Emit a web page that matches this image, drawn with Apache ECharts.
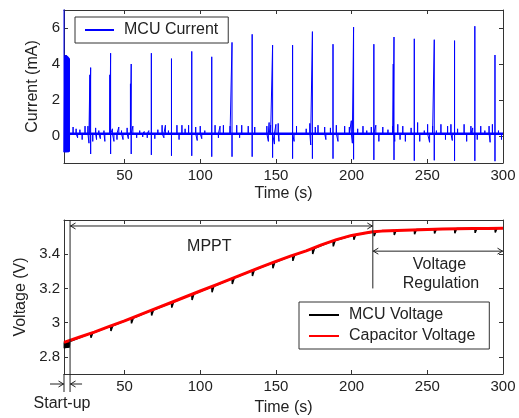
<!DOCTYPE html>
<html><head><meta charset="utf-8">
<script src="https://cdn.jsdelivr.net/npm/echarts@6/dist/echarts.min.js"></script>
<style>html,body{margin:0;padding:0;background:#fff}#c{width:519px;height:418px}</style>
</head><body><div id="c"></div>
<script>
// ---------- axis ticks ----------
const xTicks = [50, 100, 150, 200, 250, 300];
const currentTicks = [0, 2, 4, 6];
const voltageTicks = [2.8, 3, 3.2, 3.4];

// ---------- MCU current (mA) ----------
const baselineCurrent = 0.13;
const firstSpike = [10.0, 7.5, -0.9];          // time, peak, dip
const burstT  = [10.5, 10.7, 10.9, 11.1, 11.3, 11.5, 11.7, 11.9, 12.1, 12.3, 12.5, 12.7, 12.9, 13.1, 13.3, 13.5];
const burstHi = [4.4, 4.45, 4.5, 4.4, 4.45, 4.5, 4.4, 4.35, 4.45, 4.4, 4.35, 4.4, 4.3, 4.35, 4.3, 4.3];
const burstLo = [-0.9, -0.85, -0.9, -0.88, -0.9, -0.85, -0.9, -0.88, -0.85, -0.9, -0.88, -0.85, -0.9, -0.85, -0.88, -0.85];
const spikeT    = [27.6, 40.8, 54.4, 67.7, 81, 94.4, 107.6, 121, 134.3, 147.8, 161, 174.1, 187.7, 201.3, 214.7, 228, 241.4, 254.6, 268, 281.4, 294.7];
const spikePeak = [3.8, 4.6, 4.0, 4.6, 4.3, 4.7, 4.4, 5.2, 5.65, 5.05, 5.05, 5.8, 5.1, 6.05, 5.1, 5.5, 5.4, 5.35, 5.3, 6.1, 4.5];
const spikeDip  = [-1.0, -1.0, -1.0, -1.05, -1.1, -1.1, -1.15, -1.15, -1.15, -1.2, -1.26, -1.26, -1.26, -1.3, -1.33, -1.33, -1.37, -1.35, -1.38, -1.38, -1.4];
const preSpikeT    = [27.1, 40.3, 53.9, 227.5];
const preSpikePeak = [3.4, 3.4, 2.9, 4.0];
const noiseT = [16, 18, 19, 20.5, 22, 23.9, 25.8, 26.5, 29, 30.9, 31.5, 33, 34, 36.4, 37, 42, 43, 45, 46.2, 48, 49, 51.7, 52.5,
  55.5, 58, 60, 62, 63, 65, 66, 70, 72, 74.8, 76, 77, 79, 84.6, 86, 87.9, 90, 92.3, 97, 98, 100, 101, 103, 109.8, 112, 113.1, 115.3, 119.7, 124.1, 126, 127.4, 131.7, 136,
  144, 145, 145.5, 146.5, 149, 150, 151.5, 152, 162, 163.6, 170, 172.4, 173, 176, 177.8, 182.2, 183, 186, 189.9, 191, 195.4, 198.5, 199.8, 200.5, 204, 207.5, 210, 213, 216, 218, 220.6,
  224, 227.2, 228.5, 230.5, 232, 233.8, 235.5, 239.3, 243.6, 245, 248, 250.2, 251.5, 253.5, 256, 259, 262, 263.4, 265.6, 266.5, 270, 274.3, 276, 278.8, 280, 283, 285.3, 288, 290.8, 291.5, 293, 297, 299];
const noiseV = [0.5, 0.4, -0.1, 0.35, -0.2, 0.55, 0.55, -0.4, -0.3, 0.45, -0.2, 0.3, -0.15, 0.3, -0.3, 0.4, -0.3, -0.2, 0.5, 0.3, -0.2, 0.45, -0.15,
  0.55, -0.1, 0.3, -0.05, 0.25, -0.1, 0.3, -0.15, 0.35, 0.6, -0.1, 0.6, 0.3, 0.6, -0.2, 0.6, 0.4, 0.6, 0.5, -0.25, 0.55, -0.15, 0.3, 0.6, -0.1, 0.55, 0.6, 0.55, 0.6, -0.1, 0.6, 0.55, 0.5,
  0.55, -0.3, 0.75, 0.6, -0.45, 0.65, 0.7, -0.3, -0.3, 0.55, 0.4, 0.7, -0.5, 0.5, 0.6, 0.5, -0.2, 0.45, 0.6, -0.3, 0.55, 0.5, 0.85, -0.4, 0.4, 0.55, 0.3, 0.5, 0.6, -0.3, 0.5,
  0.35, 0.55, -0.3, 0.65, -0.2, 0.55, -0.3, 0.45, 0.75, -0.3, 0.3, 0.65, -0.35, 0.55, 0.3, 0.65, -0.2, 0.55, 0.65, -0.25, 0.4, 0.65, -0.3, 0.55, 0.45, -0.2, 0.55, 0.3, 0.55, -0.35, 0.65, 0.3, -0.2];

// ---------- voltages (V) ----------
const capT = [10, 20, 30, 40, 50, 60, 70, 80, 90, 100, 110, 120, 130, 140, 150, 160, 170, 180, 190, 200, 210, 214, 220, 230, 240, 250, 260, 270, 280, 290, 300];
const capV = [2.885, 2.915, 2.945, 2.978, 3.01, 3.045, 3.08, 3.115, 3.15, 3.185, 3.22, 3.255, 3.29, 3.325, 3.358, 3.39, 3.42, 3.455, 3.485, 3.51, 3.525, 3.531, 3.535, 3.539, 3.542, 3.545, 3.547, 3.549, 3.55, 3.551, 3.552];
const mcuBurstT  = [10.2, 10.6, 11.0, 11.4, 11.8, 12.2, 12.6, 13.0, 13.4];
const mcuBurstHi = [2.885, 2.886, 2.886, 2.887, 2.887, 2.888, 2.888, 2.889, 2.889];
const mcuBurstLo = [2.85, 2.851, 2.851, 2.852, 2.852, 2.853, 2.853, 2.854, 2.854];
const mcuAfterBurst = [13.8, 2.889];
const mcuDipTop = [2.938, 2.98, 3.025, 3.072, 3.118, 3.165, 3.21, 3.258, 3.305, 3.35, 3.393, 3.433, 3.478, 3.512, 3.531, 3.538, 3.542, 3.546, 3.548, 3.55, 3.551];
const mcuDipLow = [2.912, 2.952, 2.996, 3.042, 3.088, 3.133, 3.178, 3.226, 3.273, 3.318, 3.361, 3.401, 3.446, 3.485, 3.506, 3.513, 3.517, 3.521, 3.523, 3.525, 3.527];
const mcuEnd = [300, 3.552];

// ---------- annotation anchors (data units) ----------
const startT = 10, startupEnd = 14, mpptEnd = 214, tEnd = 300;
const mpptArrowV = 3.565, regArrowV = 3.418, regLineLowV = 3.2;

// ---------- build series data ----------
const B = baselineCurrent;
const events = [];
events.push([firstSpike[0], [[firstSpike[0], firstSpike[1]], [firstSpike[0], firstSpike[2]]]]);
burstT.forEach((t, i) => events.push([t, [[t, burstHi[i]], [t, burstLo[i]]]]));
events.push([13.7, [[13.7, B]]]);
spikeT.forEach((t, i) => events.push([t, [[t, B], [t, spikePeak[i]], [t, spikeDip[i]], [t, B]]]));
preSpikeT.forEach((t, i) => events.push([t, [[t, B], [t, preSpikePeak[i]], [t, B]]]));
noiseT.forEach((t, i) => events.push([t, [[t, B], [t, noiseV[i]], [t, B]]]));
events.sort((a, b) => a[0] - b[0]);
const currentData = [];
events.forEach(e => e[1].forEach(p => currentData.push(p)));
currentData.push([300, B]);

const capData = capT.map((t, i) => [t, capV[i]]);
const mcuData = [];
mcuBurstT.forEach((t, i) => { mcuData.push([t, mcuBurstHi[i]]); mcuData.push([t, mcuBurstLo[i]]); });
mcuData.push(mcuAfterBurst);
spikeT.forEach((t, i) => { mcuData.push([t, mcuDipTop[i]]); mcuData.push([t + 0.2, mcuDipLow[i]]); mcuData.push([t + 1.4, mcuDipTop[i] + 0.002]); });
mcuData.push(mcuEnd);

const FONT = 'Liberation Sans, Arial, sans-serif';
const TXT = '#222';
const AX = '#333';

function xAx(grid, pos, name, gap) {
  const main = pos === 'bottom';
  return {
    type: 'value', gridIndex: grid, position: pos, min: startT, max: tEnd,
    name: main ? name : '', nameLocation: 'middle', nameGap: gap,
    nameTextStyle: { fontFamily: FONT, fontSize: 16, color: TXT },
    axisLine: { show: true, onZero: false, lineStyle: { color: AX, width: 1 } },
    axisTick: { show: true, inside: true, length: 4, customValues: xTicks, lineStyle: { color: AX } },
    axisLabel: { show: main, customValues: xTicks, margin: 5, fontFamily: FONT, fontSize: 15, color: TXT },
    splitLine: { show: false }
  };
}
function yAx(grid, pos, min, max, ticks, name, gap) {
  const main = pos === 'left';
  return {
    type: 'value', gridIndex: grid, position: pos, min: min, max: max,
    name: main ? name : '', nameLocation: 'middle', nameGap: gap, nameRotate: 90,
    nameTextStyle: { fontFamily: FONT, fontSize: 16, color: TXT },
    axisLine: { show: true, onZero: false, lineStyle: { color: AX, width: 1 } },
    axisTick: { show: true, inside: true, length: 4, customValues: ticks, lineStyle: { color: AX } },
    axisLabel: { show: main, customValues: ticks, margin: 4, fontFamily: FONT, fontSize: 15, color: TXT },
    splitLine: { show: false }
  };
}
const legendCommon = {
  orient: 'vertical', itemHeight: 14, itemGap: 5,
  borderColor: AX, borderWidth: 1, backgroundColor: '#fff',
  itemStyle: { color: 'rgba(0,0,0,0)', borderWidth: 0, opacity: 0 },
  textStyle: { fontFamily: FONT, fontSize: 16, color: TXT, padding: [0, 0, 0, 5] }
};

const chart = echarts.init(document.getElementById('c'), null, { renderer: 'canvas' });
chart.setOption({
  animation: false,
  backgroundColor: '#fff',
  grid: [
    { left: 64, top: 10, width: 439, height: 153 },
    { left: 64, top: 220, width: 439, height: 154 }
  ],
  xAxis: [
    xAx(0, 'bottom', 'Time (s)', 23), xAx(0, 'top', '', 0),
    xAx(1, 'bottom', 'Time (s)', 26), xAx(1, 'top', '', 0)
  ],
  yAxis: [
    yAx(0, 'left', -1.5, 7, currentTicks, 'Current (mA)', 22), yAx(0, 'right', -1.5, 7, currentTicks, '', 0),
    yAx(1, 'left', 2.7, 3.6, voltageTicks, 'Voltage (V)', 35), yAx(1, 'right', 2.7, 3.6, voltageTicks, '', 0)
  ],
  legend: [
    Object.assign({}, legendCommon, {
      data: ['MCU Current'], left: 75, top: 17, padding: [5, 10, 5, 9], itemWidth: 29
    }),
    Object.assign({}, legendCommon, {
      data: ['MCU Voltage', 'Capacitor Voltage'], left: 299, top: 302, padding: [5, 14, 5, 9], itemWidth: 30
    })
  ],
  series: [
    { name: 'MCU Current', type: 'line', xAxisIndex: 0, yAxisIndex: 0, data: currentData, symbol: 'none',
      lineStyle: { color: '#0000ff', width: 1 }, itemStyle: { color: '#0000ff' }, clip: true, z: 3 },
    { name: 'baseline', type: 'line', xAxisIndex: 0, yAxisIndex: 0, data: [[13.7, B], [300, B]], symbol: 'none',
      lineStyle: { color: '#0000ff', width: 2.5 }, itemStyle: { color: '#0000ff' }, clip: true, z: 3 },
    { name: 'MCU Voltage', type: 'line', xAxisIndex: 2, yAxisIndex: 2, data: mcuData, symbol: 'none',
      lineStyle: { color: '#000', width: 1.5 }, itemStyle: { color: '#000' }, clip: true, z: 3 },
    { name: 'Capacitor Voltage', type: 'line', xAxisIndex: 2, yAxisIndex: 2, data: capData, symbol: 'none',
      lineStyle: { color: '#ff0000', width: 3 }, itemStyle: { color: '#ff0000' }, clip: true, z: 4 }
  ]
});

// ---------- annotations (positions via the chart's own scales) ----------
const P = (t, v) => chart.convertToPixel({ seriesIndex: 3 }, [t, v]);
const yTop = P(startT, 3.6)[1], yBot = P(startT, 2.7)[1];
const x10 = P(startT, 3)[0], x14 = P(startupEnd, 3)[0], x214 = P(mpptEnd, 3)[0], x300 = P(tEnd, 3)[0];
const yM = P(startT, mpptArrowV)[1], yR = P(startT, regArrowV)[1], yRL = P(startT, regLineLowV)[1];
const LS = { stroke: '#222', lineWidth: 1, fill: null };
const line = (x1, y1, x2, y2) => ({ type: 'line', shape: { x1, y1, x2, y2 }, style: LS, z: 10 });
const chev = (x, y, d) => ({ type: 'polyline', shape: { points: [[x + d * 5, y - 3], [x, y], [x + d * 5, y + 3]] }, style: LS, z: 10 });
const txt = (x, y, s) => ({ type: 'text', x, y, style: { text: s, fontFamily: FONT, fontSize: 16, fill: TXT, align: 'center', verticalAlign: 'middle' }, z: 10 });
const yS = yBot + 10;
chart.setOption({
  graphic: [
    line(x14, yTop, x14, yBot + 18),
    line(x10, yBot, x10, yBot + 18),
    line(x14, yM, x214, yM), chev(x14 + 0.5, yM, 1), chev(x214 - 0.5, yM, -1),
    line(x214, yTop, x214, yRL),
    line(x214, yR, x300, yR), chev(x214 + 0.5, yR, 1), chev(x300 - 0.5, yR, -1),
    line(x10 - 14, yS, x10, yS), chev(x10 - 0.5, yS, -1),
    line(x14, yS, x14 + 12, yS), chev(x14 + 0.5, yS, 1),
    txt(P(106, 3)[0], P(106, 3.447)[1], 'MPPT'),
    txt(P(258, 3)[0], P(258, 3.341)[1], 'Voltage'),
    txt(P(259, 3)[0], P(259, 3.229)[1], 'Regulation'),
    txt(x10 - 2, yBot + 30, 'Start-up')
  ]
});
</script>
</body></html>
